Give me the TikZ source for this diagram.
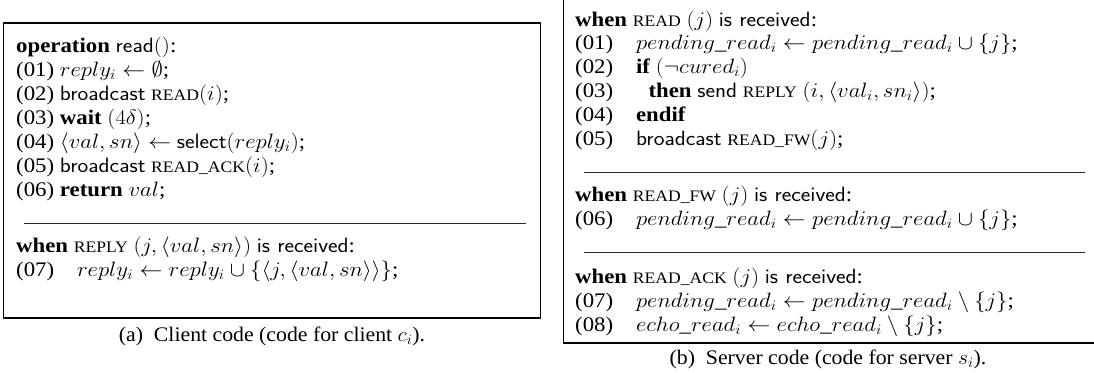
\documentclass[tikz,border=0pt]{standalone}
\usepackage[no-math]{fontspec}
\setmainfont{Liberation Serif}
\usepackage{graphicx}
\newcommand{\msgname}[1]{{\fontsize{16}{18}\selectfont #1}}
\newcommand{\xs}[1]{\scalebox{1.1}[1]{#1}}
\newcommand{\xc}[1]{\scalebox{1.05}[1]{#1}}
\tikzset{
  codeline/.style={anchor=base west, inner sep=0pt, font=\fontsize{20.74}{24}\selectfont},
  captionline/.style={anchor=base, inner sep=0pt, font=\fontsize{20.74}{24}\selectfont},
  framebox/.style={draw=black, line width=1.1pt},
  sepline/.style={draw=black!85, line width=0.8pt},
}
\begin{document}
\begin{tikzpicture}[x=1pt,y=-1pt]
\useasboundingbox (0,0) rectangle (1094,372);
% ---------------- client box
\draw[framebox] (3.5,23) rectangle (540.5,318);
\node[codeline] (c0) at (16,52)  {\xs{\textbf{operation} \textsf{read}$()$:}};
\node[codeline] (c1) at (16,76)  {\xs{(01) $reply_i \leftarrow \emptyset$;}};
\node[codeline] (c2) at (16,100) {\xs{(02) \textsf{broadcast} \msgname{READ}$(i)$;}};
\node[codeline] (c3) at (16,124) {\xs{(03) \textbf{wait} $(4\delta)$;}};
\node[codeline] (c4) at (16,148) {\xs{(04) $\langle val, sn\rangle \leftarrow$ \textsf{select}$(reply_i)$;}};
\node[codeline] (c5) at (16,172) {\xs{(05) \textsf{broadcast} \msgname{READ\_ACK}$(i)$;}};
\node[codeline] (c6) at (16,196) {\xs{(06) \textbf{return} $val$;}};
\coordinate (cs1a) at (24,223);
\coordinate (cs1b) at (526,223);
\draw[sepline] (cs1a) -- (cs1b);
\node[codeline] (c7) at (16,252) {\xs{\textbf{when} \msgname{REPLY} $(j, \langle val, sn\rangle)$ \textsf{is received}:}};
\node[codeline] (c8) at (16,276) {\xs{(07)\quad $reply_i \leftarrow reply_i \cup \{\langle j, \langle val, sn\rangle\rangle\}$;}};
\node[captionline] (capa) at (272,341) {\xc{(a)\enspace Client code (code for client $c_i$).}};
% ---------------- server box
\draw[framebox] (563.5,-5) rectangle (1100,343);
\node[codeline] (s0) at (575,26)  {\xs{\textbf{when} \msgname{READ} $(j)$ \textsf{is received}:}};
\node[codeline] (s1) at (575,49)  {\xs{(01)\quad $pending\_read_i \leftarrow pending\_read_i \cup \{j\}$;}};
\node[codeline] (s2) at (575,73)  {\xs{(02)\quad \textbf{if} $(\neg cured_i)$}};
\node[codeline] (s3) at (575,97)  {\xs{(03)\quad\hspace*{0.55em}\textbf{then} \textsf{send} \msgname{REPLY} $(i, \langle val_i, sn_i\rangle)$;}};
\node[codeline] (s4) at (575,121) {\xs{(04)\quad \textbf{endif}}};
\node[codeline] (s5) at (575,145) {\xs{(05)\quad \textsf{broadcast} \msgname{READ\_FW}$(j)$;}};
\coordinate (ss1a) at (584,172);
\coordinate (ss1b) at (1085,172);
\draw[sepline] (ss1a) -- (ss1b);
\node[codeline] (s6) at (575,201) {\xs{\textbf{when} \msgname{READ\_FW} $(j)$ \textsf{is received}:}};
\node[codeline] (s7) at (575,225) {\xs{(06)\quad $pending\_read_i \leftarrow pending\_read_i \cup \{j\}$;}};
\coordinate (ss2a) at (584,252);
\coordinate (ss2b) at (1085,252);
\draw[sepline] (ss2a) -- (ss2b);
\node[codeline] (s8) at (575,283) {\xs{\textbf{when} \msgname{READ\_ACK} $(j)$ \textsf{is received}:}};
\node[codeline] (s9) at (575,307) {\xs{(07)\quad $pending\_read_i \leftarrow pending\_read_i \setminus \{j\}$;}};
\node[codeline] (s10) at (575,331) {\xs{(08)\quad $echo\_read_i \leftarrow echo\_read_i \setminus \{j\}$;}};
\node[captionline] (capb) at (828,364) {\xc{(b)\enspace Server code (code for server $s_i$).}};
\end{tikzpicture}
\end{document}
